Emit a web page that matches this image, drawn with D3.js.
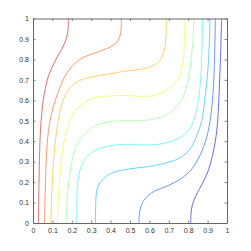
<!DOCTYPE html>
<html>
<head>
<meta charset="utf-8">
<script src="https://cdn.jsdelivr.net/npm/d3@7"></script>
<style>
  html, body { margin: 0; padding: 0; background: #fff; }
  svg { display: block; }
  .tick text { font-family: "Liberation Sans", Arial, sans-serif; font-size: 7px; fill: #333; }
</style>
</head>
<body>
<svg id="chart"></svg>
<script>
// contour levels (temperature), hot wall left, cold wall right
var levels = [0.9, 0.8, 0.7, 0.6, 0.5, 0.4, 0.3, 0.2, 0.1];

// each contour, [x, y]
var c90 = [[0.028,0],[0.031,0.2],[0.036,0.4],[0.042,0.5],[0.053,0.6],[0.065,0.665],[0.078,0.714],[0.099,0.763],[0.125,0.812],[0.154,0.861],[0.174,0.91],[0.181,0.95],[0.182,1]];
var c80 = [[0.059,0],[0.063,0.15],[0.068,0.3],[0.076,0.42],[0.088,0.5],[0.105,0.57],[0.13,0.64],[0.16,0.71],[0.2,0.765],[0.25,0.805],[0.33,0.835],[0.385,0.855],[0.425,0.878],[0.447,0.91],[0.454,0.95],[0.455,1]];
var c70 = [[0.092,0],[0.097,0.15],[0.106,0.3],[0.118,0.42],[0.13,0.5],[0.148,0.58],[0.175,0.64],[0.215,0.683],[0.27,0.707],[0.336,0.72],[0.4,0.73],[0.47,0.742],[0.54,0.75],[0.6,0.762],[0.645,0.785],[0.668,0.82],[0.68,0.86],[0.686,0.92],[0.687,1]];
var c60 = [[0.126,0],[0.132,0.15],[0.145,0.3],[0.165,0.42],[0.19,0.5],[0.228,0.559],[0.271,0.592],[0.336,0.616],[0.4,0.621],[0.469,0.624],[0.554,0.619],[0.623,0.624],[0.671,0.64],[0.71,0.665],[0.745,0.7],[0.765,0.75],[0.776,0.81],[0.781,0.9],[0.783,1]];
var c50 = [[0.17,0],[0.175,0.1],[0.185,0.2],[0.2,0.3],[0.225,0.38],[0.26,0.43],[0.31,0.47],[0.37,0.49],[0.45,0.5],[0.55,0.5],[0.63,0.51],[0.69,0.53],[0.74,0.57],[0.775,0.62],[0.8,0.7],[0.815,0.8],[0.825,0.9],[0.83,1]];
var c40 = [[0.226,0],[0.226,0.1],[0.228,0.18],[0.24,0.25],[0.26,0.3],[0.295,0.34],[0.34,0.362],[0.4,0.378],[0.5,0.385],[0.59,0.381],[0.67,0.388],[0.73,0.405],[0.77,0.425],[0.81,0.465],[0.835,0.52],[0.852,0.6],[0.864,0.7],[0.871,0.85],[0.874,1]];
var c30 = [[0.322,0],[0.323,0.08],[0.326,0.14],[0.335,0.18],[0.357,0.21],[0.4,0.242],[0.5,0.265],[0.59,0.275],[0.67,0.29],[0.75,0.315],[0.81,0.362],[0.845,0.43],[0.87,0.5],[0.885,0.6],[0.897,0.7],[0.905,0.8],[0.91,0.9],[0.912,1]];
var c20 = [[0.546,0],[0.548,0.04],[0.556,0.08],[0.578,0.12],[0.625,0.155],[0.69,0.18],[0.76,0.215],[0.815,0.26],[0.86,0.33],[0.893,0.41],[0.913,0.5],[0.925,0.6],[0.932,0.7],[0.937,0.85],[0.94,1]];
var c10 = [[0.813,0],[0.815,0.05],[0.822,0.09],[0.838,0.13],[0.86,0.17],[0.882,0.21],[0.905,0.26],[0.925,0.33],[0.94,0.4],[0.952,0.5],[0.962,0.7],[0.968,0.85],[0.972,1]];

var contours = [c90, c80, c70, c60, c50, c40, c30, c20, c10];

var xTicks = [0, 0.1, 0.2, 0.3, 0.4, 0.5, 0.6, 0.7, 0.8, 0.9, 1];
var yTicks = [0, 0.1, 0.2, 0.3, 0.4, 0.5, 0.6, 0.7, 0.8, 0.9, 1];
var tickLabels = ["0", "0.1", "0.2", "0.3", "0.4", "0.5", "0.6", "0.7", "0.8", "0.9", "1"];

var svgWidth = 251, svgHeight = 251;
var margin = { top: 18.5, right: 24, bottom: 28, left: 33 };
var width = svgWidth - margin.left - margin.right;
var height = svgHeight - margin.top - margin.bottom;

var svg = d3.select("#chart")
    .attr("width", svgWidth)
    .attr("height", svgHeight);

svg.append("rect").attr("width", svgWidth).attr("height", svgHeight).attr("fill", "#fff");

var g = svg.append("g")
    .attr("transform", "translate(" + margin.left + "," + margin.top + ")");

var x = d3.scaleLinear().domain([0, 1]).range([0, width]);
var y = d3.scaleLinear().domain([0, 1]).range([height, 0]);

// jet colormap, like matlab
function jet(t) {
  var r = Math.max(0, Math.min(1, 1.5 - Math.abs(4 * t - 3)));
  var gr = Math.max(0, Math.min(1, 1.5 - Math.abs(4 * t - 2)));
  var b = Math.max(0, Math.min(1, 1.5 - Math.abs(4 * t - 1)));
  return d3.rgb(r * 255, gr * 255, b * 255);
}

var line = d3.line()
    .x(function(d) { return x(d[0]); })
    .y(function(d) { return y(d[1]); })
    .curve(d3.curveCatmullRom);

contours.forEach(function(c, i) {
  g.append("path")
    .datum(c)
    .attr("fill", "none")
    .attr("stroke", d3.interpolateRgb(jet(levels[i]), "#fff")(0.42))
    .attr("stroke-width", 1)
    .attr("d", line);
});

var fmtX = function(d) { return tickLabels[xTicks.indexOf(d)]; };
var fmtY = function(d) { return tickLabels[yTicks.indexOf(d)]; };

// axes, ticks pointing inwards on all four sides
var axColor = "#666";
var axBottom = g.append("g").attr("transform", "translate(0," + height + ")")
    .call(d3.axisBottom(x).tickValues(xTicks).tickFormat(fmtX).tickSize(-2.5).tickSizeOuter(0).tickPadding(5));
var axLeft = g.append("g")
    .call(d3.axisLeft(y).tickValues(yTicks).tickFormat(fmtY).tickSize(-2.5).tickSizeOuter(0).tickPadding(4));
var axTop = g.append("g")
    .call(d3.axisTop(x).tickValues(xTicks).tickFormat("").tickSize(-2.5).tickSizeOuter(0));
var axRight = g.append("g").attr("transform", "translate(" + width + ",0)")
    .call(d3.axisRight(y).tickValues(yTicks).tickFormat("").tickSize(-2.5).tickSizeOuter(0));

[axBottom, axLeft, axTop, axRight].forEach(function(a) {
  a.select(".domain").attr("stroke", axColor).attr("stroke-width", 1);
  a.selectAll(".tick line").attr("stroke", axColor).attr("stroke-width", 0.8);
});
</script>
</body>
</html>
